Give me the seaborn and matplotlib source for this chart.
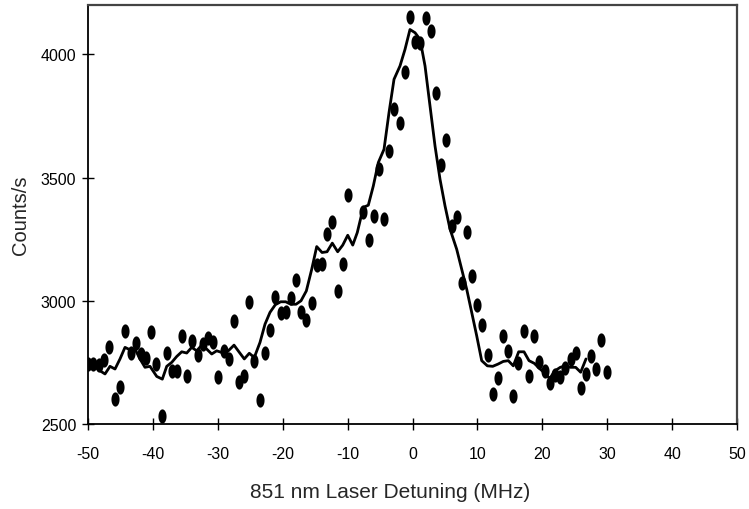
import numpy as np
import pandas as pd
import matplotlib
matplotlib.use("Agg")
import matplotlib.pyplot as plt
import seaborn as sns

# measured counts vs detuning (MHz)
detuning = [-49.95, -49.18, -48.31, -47.49, -46.72, -45.84, -45.07, -44.30, -43.42, -42.65,
            -41.83, -41.11, -40.29, -39.52, -38.64, -37.87, -37.01, -36.33, -35.56, -34.70,
            -33.93, -33.10, -32.33, -31.56, -30.79, -30.02, -29.04, -28.27, -27.50, -26.69,
            -25.92, -25.15, -24.38, -23.50, -22.73, -21.96, -21.14, -20.31, -19.54, -18.77,
            -17.95, -17.18, -16.36, -15.53, -14.76, -13.94, -13.17, -12.36, -11.53, -10.75,
            -9.98, -7.58, -6.75, -5.98, -5.16, -4.44, -3.57, -2.80, -1.97, -1.16,
            -0.39, 0.43, 1.20, 2.03, 2.80, 3.62, 4.39, 5.21, 6.01, 6.81,
            7.63, 8.35, 9.17, 9.98, 10.75, 11.59, 12.36, 13.17, 13.98, 14.76,
            15.53, 16.33, 17.18, 17.95, 18.75, 19.54, 20.34, 21.14, 21.96, 22.76,
            23.54, 24.35, 25.16, 25.93, 26.73, 27.50, 28.30, 29.09, 29.92]
counts = [2743, 2743, 2739, 2761, 2813, 2601, 2650, 2878, 2788, 2828,
          2784, 2769, 2872, 2743, 2534, 2788, 2714, 2716, 2858, 2693,
          2838, 2780, 2824, 2847, 2831, 2689, 2797, 2764, 2919, 2669,
          2693, 2997, 2757, 2597, 2787, 2882, 3016, 2949, 2955, 3010,
          3084, 2955, 2922, 2993, 3146, 3150, 3270, 3318, 3040, 3149,
          3428, 3361, 3247, 3344, 3534, 3331, 3608, 3780, 3720, 3928,
          4153, 4050, 4047, 4149, 4093, 3842, 3551, 3653, 3305, 3341,
          3074, 3281, 3099, 2984, 2903, 2781, 2622, 2686, 2856, 2797,
          2615, 2747, 2876, 2693, 2857, 2753, 2715, 2667, 2697, 2691,
          2726, 2764, 2789, 2645, 2701, 2774, 2723, 2842, 2710]

# smoothed curve
smooth_x = [-50.0, -49.23, -48.15, -47.38, -46.61, -45.84, -45.07, -44.30, -43.53, -42.76,
            -41.99, -41.22, -40.45, -39.41, -38.55, -37.87, -37.10, -36.33, -35.56, -34.79,
            -34.02, -33.25, -32.48, -31.71, -30.94, -30.17, -29.15, -28.38, -27.50, -26.69,
            -25.92, -25.15, -24.38, -23.50, -22.73, -21.96, -21.14, -20.31, -19.54, -18.77,
            -17.95, -17.18, -16.36, -15.53, -14.76, -13.94, -13.17, -12.36, -11.53, -10.75,
            -9.98, -9.21, -8.51, -7.58, -6.81, -6.04, -5.27, -4.39, -3.62, -2.85,
            -1.93, -1.16, -0.39, 0.39, 1.16, 1.93, 2.70, 3.47, 4.24, 5.01,
            5.78, 6.81, 7.58, 8.35, 9.12, 9.89, 10.66, 11.53, 12.36, 13.17,
            13.99, 14.76, 15.53, 16.36, 17.18, 17.95, 18.77, 19.54, 20.34, 21.14,
            21.96, 22.77, 23.54, 24.31, 25.14, 25.91, 26.73]
smooth_y = [2743, 2739, 2716, 2703, 2734, 2723, 2764, 2811, 2801, 2804,
            2764, 2730, 2734, 2693, 2682, 2734, 2750, 2774, 2793, 2788,
            2811, 2797, 2820, 2804, 2784, 2797, 2788, 2797, 2820, 2791,
            2764, 2787, 2770, 2831, 2905, 2953, 2984, 2996, 2996, 2986,
            2986, 3000, 3040, 3128, 3220, 3196, 3199, 3234, 3199, 3226,
            3266, 3226, 3277, 3379, 3388, 3466, 3561, 3615, 3764, 3899,
            3953, 4020, 4101, 4088, 4061, 3953, 3790, 3628, 3493, 3385,
            3291, 3209, 3128, 3047, 2953, 2858, 2757, 2736, 2734, 2743,
            2754, 2757, 2736, 2793, 2793, 2757, 2746, 2726, 2707, 2685,
            2716, 2730, 2736, 2730, 2730, 2710, 2764]

xticks = list(range(-50, 51, 10))
yticks = [2500, 3000, 3500, 4000]

df_pts = pd.DataFrame({"x": detuning, "y": counts})
df_fit = pd.DataFrame({"x": smooth_x, "y": smooth_y})

sns.set_style("white")
plt.rcParams['font.family'] = ['Liberation Sans', 'DejaVu Sans']
plt.rcParams['axes.unicode_minus'] = False

fig = plt.figure(figsize=(7.49, 5.10), dpi=100)
ax = fig.add_axes([0.1175, 0.1667, 0.8665, 0.8213])

# tall ellipse marker
t = np.linspace(0, 2 * np.pi, 40)
ell = np.column_stack([0.57 * np.cos(t), np.sin(t)])

sns.lineplot(data=df_fit, x="x", y="y", color="black", linewidth=2.0, ax=ax)
sns.scatterplot(data=df_pts, x="x", y="y", marker=ell, s=105, color="black",
                edgecolor="black", linewidth=0, ax=ax, zorder=3)

ax.set_xlim(-50, 50)
ax.set_ylim(2500, 4200)
ax.set_xticks(xticks)
ax.set_yticks(yticks)
ax.tick_params(bottom=True, left=True, direction="inout", length=8, width=1,
               colors="black", labelsize=11.5)
ax.tick_params(axis="x", pad=11.5)
ax.tick_params(axis="y", pad=4.5)

for s in ["left", "bottom"]:
    ax.spines[s].set_color("black")
    ax.spines[s].set_linewidth(1.3)
for s in ["top", "right"]:
    ax.spines[s].set_color("#444444")
    ax.spines[s].set_linewidth(1.6)

ax.set_xlabel("851 nm Laser Detuning (MHz)", fontsize=15)
ax.set_ylabel("Counts/s", fontsize=14.5)
ax.xaxis.set_label_coords(0.465, -0.138)
ax.yaxis.set_label_coords(-0.090, 0.5)

fig.savefig("out.png", dpi=100)
